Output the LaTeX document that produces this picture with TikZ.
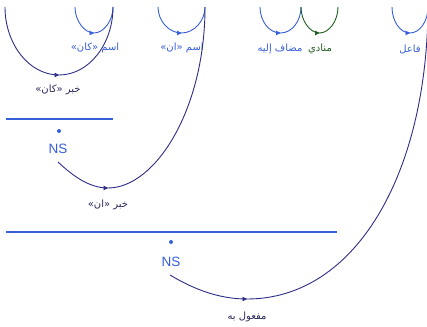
\documentclass[tikz,border=0pt]{standalone}
\usepackage{fontspec}
\setmainfont{Liberation Sans}
\newfontfamily\arabicfont[Script=Arabic]{DejaVu Sans}
\TeXXeTstate=1
\usetikzlibrary{decorations.markings,arrows.meta}
\definecolor{arcblue}{RGB}{55,95,215}
\definecolor{arcnavy}{RGB}{45,45,135}
\definecolor{labnavy}{RGB}{40,40,90}
\definecolor{arcgreen}{RGB}{30,95,30}
\tikzset{
  arcline/.style={line width=0.9pt},
  midarrow/.style={postaction={decorate},decoration={markings,
     mark=at position 0.5 with {\arrow{Triangle[length=4.5pt,width=4.5pt]}}}},
  endarrow/.style={postaction={decorate},decoration={markings,
     mark=at position 1 with {\arrow{Triangle[length=4.5pt,width=4.5pt]}}}},
  arlabel/.style={inner sep=0pt,font=\arabicfont\fontsize{10}{12}\selectfont},
  nslabel/.style={inner sep=0pt,text=arcblue,font=\fontsize{13.5}{15}\selectfont},
  sdot/.style={circle,fill=arcblue,inner sep=0pt,minimum size=4pt},
  rule/.style={arcblue,line width=1.4pt}
}
\begin{document}
\begin{tikzpicture}[x=1pt,y=-1pt]
\useasboundingbox (0,0) rectangle (427,326);
% word anchors at top
\coordinate (w1) at (5,7);
\coordinate (w2) at (75,7);
\coordinate (w3) at (113,7);
\coordinate (w4) at (158,7);
\coordinate (w5) at (205,7);
\coordinate (w6) at (260,7);
\coordinate (w7) at (301,7);
\coordinate (w8) at (338,7);
\coordinate (w9) at (392,7);
\coordinate (w10) at (428,7);
% small arcs
\draw[arcline,arcblue,midarrow] (w2) .. controls (75,21) and (84.5,33) .. (94,33) .. controls (103.5,33) and (113,21) .. (w3);
\draw[arcline,arcnavy,midarrow] (w1) .. controls (5,44) and (29,75) .. (59,75) .. controls (89,75) and (113,44) .. (w3);
\draw[arcline,arcblue,midarrow] (w4) .. controls (158,21) and (169,33) .. (181.5,33) .. controls (194,33) and (205,21) .. (w5);
\draw[arcline,arcblue,midarrow] (w6) .. controls (260,21) and (269,33) .. (280.5,33) .. controls (292,33) and (301,21) .. (w7);
\draw[arcline,arcgreen,midarrow] (w7) .. controls (301,21) and (310,33) .. (319.5,33) .. controls (329,33) and (338,21) .. (w8);
\draw[arcline,arcblue,midarrow] (w9) .. controls (392,21) and (400,33) .. (410,33) .. controls (420,33) and (428,21) .. (w10);
% labels
\node[arlabel,text=arcblue] (l1) at (95,48) {\beginR اسم «كان»\endR};
\node[arlabel,text=labnavy] (l2) at (58,90) {\beginR خبر «كان»\endR};
\node[arlabel,text=arcblue] (l3) at (182,48) {\beginR اسم «ان»\endR};
\node[arlabel,text=arcblue] (l4) at (280,49) {\beginR مضاف إليه\endR};
\node[arlabel,text=arcgreen] (l5) at (320,49) {\beginR منادي\endR};
\node[arlabel,text=arcblue] (l6) at (410,49) {\beginR فاعل\endR};
\node[arlabel,text=labnavy] (l7) at (108,205) {\beginR خبر «ان»\endR};
\node[arlabel,text=labnavy] (l8) at (247,317) {\beginR مفعول به\endR};
% rules, dots, NS
\coordinate (r1a) at (6,119); \coordinate (r1b) at (113,119);
\draw[rule] (r1a) -- (r1b);
\node[sdot] (d1) at (59,131) {};
\node[nslabel] (ns1) at (58,149) {NS};
\coordinate (r2a) at (6,232); \coordinate (r2b) at (337,232);
\draw[rule] (r2a) -- (r2b);
\node[sdot] (d2) at (171,242) {};
\node[nslabel] (ns2) at (171,262) {NS};
% long arcs from NS
\coordinate (b1) at (108,188);
\draw[arcline,arcnavy,endarrow] (58,162) .. controls (74,177) and (90,188) .. (b1);
\draw[arcline,arcnavy] (b1) .. controls (155,188) and (205,110) .. (w5);
\coordinate (b2) at (247,299);
\draw[arcline,arcnavy,endarrow] (170,275) .. controls (195,290) and (220,299) .. (b2);
\draw[arcline,arcnavy] (b2) .. controls (355,299) and (427,175) .. (w10);
\end{tikzpicture}
\end{document}
